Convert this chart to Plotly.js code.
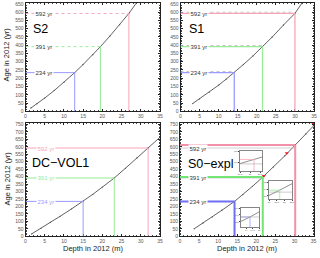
<!DOCTYPE html>
<html><head><meta charset="utf-8">
<script src="https://cdn.plot.ly/plotly-3.0.1.min.js"></script>
<style>html,body{margin:0;padding:0;background:#fff}#chart{width:320px;height:258px}</style>
</head><body><div id="chart"></div>
<script>
// ---- data ----
const ageLabels = [234, 391, 592];
const panelNames = ['S2', 'S1', 'DC\u2212VOL1', 'S0\u2212expl'];
const xTicks = [0, 5, 10, 15, 20, 25, 30, 35];

const s2Depth = [1.4, 3, 5, 7.5, 10, 12.8, 15, 17.5, 19.5, 22, 24.5, 26.9, 29.0];
const s2Age   = [20, 46, 80, 126, 175, 234, 283, 342, 391, 456, 524, 592, 660];
const s2Cross = [12.8, 19.5, 26.9];

const s1Depth = [3.2, 5, 7.5, 10, 12, 14.1, 16.5, 19, 21.5, 24, 27, 30, 32.0];
const s1Age   = [47, 75, 115, 158, 195, 234, 283, 335, 391, 448, 522, 592, 660];
const s1Cross = [14.1, 21.5, 30.0];

const dcDepth = [1.6, 4, 6.5, 9, 12, 15, 17.5, 20, 23.1, 26, 29, 31.9, 35];
const dcAge   = [16, 53, 93, 134, 184, 234, 281, 330, 391, 456, 525, 592, 664];
const dcCross = [15.0, 23.1, 31.9];

const s0Depth = [3.7, 6, 8.5, 11, 14.3, 16.5, 19, 21.7, 24.5, 27.5, 30.2, 33, 35];
const s0Age   = [50, 88, 130, 175, 234, 280, 335, 397, 465, 540, 612, 686, 740];
const s0Cross = [14.3, 21.7, 30.2];
const s0CrossAge = [234, 397, 612];
const s0MarkDepth = [22.0, 28.0, 34.9];
const s0MarkAge = [405, 557, 756];

// ---- styling ----
const W = 320, H = 258;
const px = v => v / W, py = v => 1 - v / H;
const colsLight = ['#9b9bff', '#98ec98', '#f7a6b8'];
const colsStrong = ['#6f6ff2', '#74e474', '#f292aa'];
const tickFont = {family: 'Liberation Sans, Arial, sans-serif', size: 5, color: '#555'};

function xAx(dom, anchor) {
  return {domain: dom, anchor: anchor, range: [0, 35], tickvals: xTicks, ticks: 'inside', ticklen: 2,
    mirror: 'ticks', showline: true, linecolor: '#222', linewidth: 1, showgrid: false, zeroline: false,
    tickfont: tickFont, tickcolor: '#222', minor: {ticks: 'inside', ticklen: 1, dtick: 1, tickcolor: '#444'}};
}
function yAx(dom, anchor, top, dtick) {
  return {domain: dom, anchor: anchor, range: [0, top], dtick: dtick, ticks: 'inside', ticklen: 2,
    mirror: 'ticks', showline: true, linecolor: '#222', linewidth: 1, showgrid: false, zeroline: false,
    tickfont: tickFont, tickcolor: '#222', minor: {ticks: 'inside', ticklen: 1, dtick: 10, tickcolor: '#444'}};
}

const xTop = [px(25.5), px(160)], xTopR = [px(180.5), px(314)];
const yTop = [py(111.3), py(3)], yBot = [py(236.3), py(122.5)];

const layout = {
  width: W, height: H, margin: {l: 0, r: 0, t: 0, b: 0},
  paper_bgcolor: '#fff', plot_bgcolor: '#fff', showlegend: false,
  font: {family: 'Liberation Sans, Arial, sans-serif'},
  xaxis: xAx(xTop, 'y'), yaxis: yAx(yTop, 'x', 655, 50),
  xaxis2: xAx(xTopR, 'y2'), yaxis2: yAx(yTop, 'x2', 655, 50),
  xaxis3: xAx([px(25.5), px(160)], 'y3'), yaxis3: yAx(yBot, 'x3', 763, 50),
  xaxis4: xAx([px(180), px(313.5)], 'y4'), yaxis4: yAx(yBot, 'x4', 763, 50),
  shapes: [], annotations: []
};

const traces = [];
function curve(xs, ys, xa, ya) {
  traces.push({x: xs, y: ys, xaxis: xa, yaxis: ya, type: 'scatter', mode: 'lines+markers',
    line: {color: '#3a3a3a', width: 0.8}, marker: {size: 1.3, color: '#555'}, hoverinfo: 'skip'});
}
curve(s2Depth, s2Age, 'x', 'y');
curve(s1Depth, s1Age, 'x2', 'y2');
curve(dcDepth, dcAge, 'x3', 'y3');
curve(s0Depth, s0Age, 'x4', 'y4');
traces.push({x: s0MarkDepth, y: s0MarkAge, xaxis: 'x4', yaxis: 'y4', type: 'scatter', mode: 'markers',
  marker: {symbol: 'triangle-down', size: 3.5, color: '#e8202a'}, hoverinfo: 'skip', cliponaxis: false});

function hline(xa, ya, x1, y, color, width, dash) {
  layout.shapes.push({type: 'line', xref: xa, yref: ya, x0: 0, x1: x1, y0: y, y1: y,
    line: {color: color, width: width, dash: dash || 'solid'}});
}
function vline(xa, ya, x, y1, color, width) {
  layout.shapes.push({type: 'line', xref: xa, yref: ya, x0: x, x1: x, y0: 0, y1: y1,
    line: {color: color, width: width}});
}
function label(xa, ya, x, y, txt, color) {
  layout.annotations.push({xref: xa, yref: ya, x: x, y: y, text: txt, showarrow: false,
    bgcolor: '#fff', borderpad: 0.5, font: {size: 6, color: color}});
}

// S2
ageLabels.forEach((a, i) => {
  hline('x', 'y', s2Cross[i], a, colsLight[i], 1, i === 0 ? 'solid' : 'dot');
  vline('x', 'y', s2Cross[i], a, colsLight[i], 1);
  label('x', 'y', 4.8, a, a + ' yr', '#333');
});
// S1
ageLabels.forEach((a, i) => {
  hline('x2', 'y2', s1Cross[i], a + 7, '#b8b8b8', 0.8, 'dot');
  hline('x2', 'y2', s1Cross[i], a, colsLight[i], 1.3);
  vline('x2', 'y2', s1Cross[i], a, colsLight[i], 1.3);
  label('x2', 'y2', 4.8, a, a + ' yr', '#333');
});
// DC-VOL1
ageLabels.forEach((a, i) => {
  hline('x3', 'y3', dcCross[i], a, colsLight[i], 1);
  vline('x3', 'y3', dcCross[i], a, colsLight[i], 1);
  label('x3', 'y3', 5.3, a, a + ' yr', colsLight[i]);
});
// S0-expl
ageLabels.forEach((a, i) => {
  hline('x4', 'y4', s0Cross[i], a, '#c4c4c4', 0.8);
  hline('x4', 'y4', s0Cross[i], s0CrossAge[i], colsStrong[i], 2);
  vline('x4', 'y4', s0Cross[i], s0CrossAge[i], colsStrong[i], 2);
  label('x4', 'y4', 4.8, a, a + ' yr', '#333');
});

// insets in S0-expl (zoomed views of the same curve)
const insets = [
  {dom: [[px(240), px(262)], [py(171), py(151)]], xr: [29.5, 30.6], yr: [560, 650], i: 2},
  {dom: [[px(269), px(292)], [py(199), py(181)]], xr: [21.0, 22.5], yr: [370, 425], i: 1},
  {dom: [[px(241), px(259)], [py(227), py(208)]], xr: [13.6, 15.0], yr: [205, 260], i: 0}
];
const insFont = {family: 'Liberation Sans, Arial, sans-serif', size: 2.3, color: '#555'};
insets.forEach((ins, k) => {
  const n = 5 + k;
  layout['xaxis' + n] = {domain: ins.dom[0], anchor: 'y' + n, range: ins.xr, nticks: 4, ticks: 'outside', ticklen: 1,
    showline: true, mirror: true, linecolor: '#333', linewidth: 0.6, showgrid: false, zeroline: false, tickfont: insFont};
  layout['yaxis' + n] = {domain: ins.dom[1], anchor: 'x' + n, range: ins.yr, nticks: 3, ticks: 'outside', ticklen: 1,
    showline: true, mirror: true, linecolor: '#333', linewidth: 0.6, showgrid: false, zeroline: false, tickfont: insFont};
  traces.push({x: s0Depth, y: s0Age, xaxis: 'x' + n, yaxis: 'y' + n, type: 'scatter', mode: 'lines',
    line: {color: '#444', width: 0.6}, hoverinfo: 'skip'});
  const c = colsLight[ins.i];
  layout.shapes.push({type: 'line', xref: 'x' + n, yref: 'y' + n, x0: ins.xr[0], x1: s0Cross[ins.i],
    y0: s0CrossAge[ins.i], y1: s0CrossAge[ins.i], line: {color: c, width: 0.8}});
  layout.shapes.push({type: 'line', xref: 'x' + n, yref: 'y' + n, x0: s0Cross[ins.i], x1: s0Cross[ins.i],
    y0: ins.yr[0], y1: s0CrossAge[ins.i], line: {color: c, width: 0.8}});
  layout.shapes.push({type: 'line', xref: 'x' + n, yref: 'y' + n, x0: ins.xr[0], x1: ins.xr[1],
    y0: ageLabels[ins.i], y1: ageLabels[ins.i], line: {color: '#999', width: 0.5}});
});

// panel names
const nameFont = {family: 'Liberation Sans, Arial, sans-serif', size: 12.5, color: '#000'};
[[40.5, 29], [196.7, 29.3], [60.5, 163], [211, 163.7]].forEach((p, i) => {
  layout.annotations.push({xref: 'paper', yref: 'paper', x: px(p[0]), y: py(p[1]), text: panelNames[i],
    showarrow: false, font: nameFont, xanchor: 'center', yanchor: 'middle'});
});
// axis titles
const titleFont = {family: 'Liberation Sans, Arial, sans-serif', size: 7.5, color: '#222'};
[55, 179].forEach(yc => layout.annotations.push({xref: 'paper', yref: 'paper', x: px(6.5), y: py(yc),
  text: 'Age in 2012 (yr)', textangle: -90, showarrow: false, font: titleFont, xanchor: 'center', yanchor: 'middle'}));
[93, 247].forEach(xc => layout.annotations.push({xref: 'paper', yref: 'paper', x: px(xc), y: py(248),
  text: 'Depth in 2012 (m)', showarrow: false, font: titleFont, xanchor: 'center', yanchor: 'middle'}));

Plotly.newPlot('chart', traces, layout, {staticPlot: true, displayModeBar: false});
</script></body></html>
